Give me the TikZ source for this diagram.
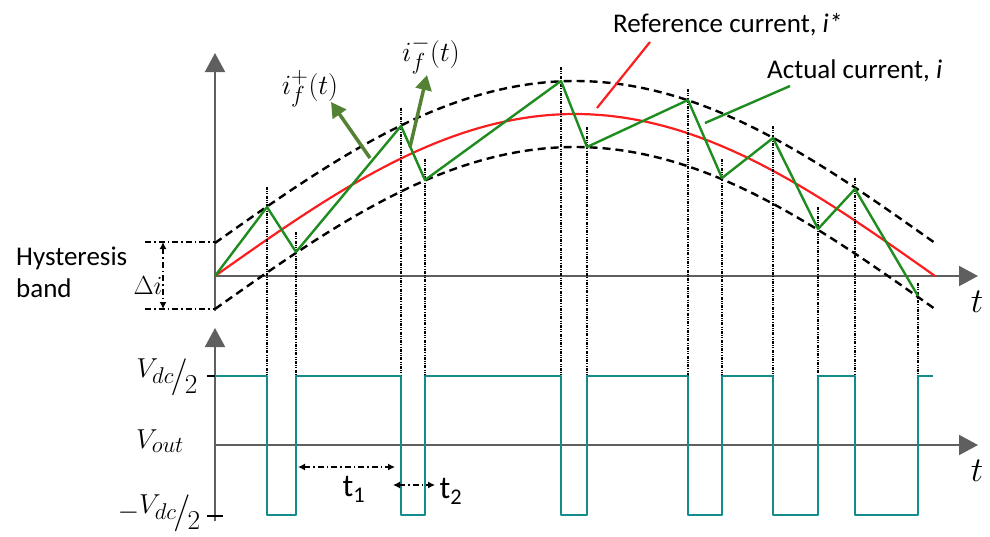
\documentclass[tikz,border=0pt]{standalone}
\usepackage{graphicx}
\usepackage{fontspec}
\newfontfamily\calibri{Carlito}
\usetikzlibrary{arrows.meta}
\definecolor{refred}{RGB}{250,30,30}
\definecolor{actgreen}{RGB}{30,140,30}
\definecolor{anngreen}{RGB}{84,130,53}
\definecolor{sqteal}{RGB}{20,140,140}
\definecolor{axgray}{RGB}{95,95,95}
\newcommand{\mbig}[2]{\scalebox{#1}{\Huge #2}}
\newcommand{\vhalf}{\raisebox{0.22em}{$V_{dc}$}\kern-0.12em\raisebox{-0.12em}{\scalebox{1.35}{$/$}}\kern-0.1em\raisebox{-0.38em}{$2$}}
\begin{document}
\begin{tikzpicture}[x=1pt,y=-1pt,
  axis/.style={draw=axgray,line width=2pt,-{Triangle[length=19pt,width=20pt]}},
  band/.style={draw=black,line width=2.4pt,dash pattern=on 8pt off 5pt},
  refc/.style={draw=refred,line width=2.2pt},
  actc/.style={draw=actgreen,line width=2.4pt,line join=round},
  vdot/.style={draw=black,line width=1.3pt,dash pattern=on 3pt off 1.2pt on 1pt off 1.2pt on 1pt off 1.2pt},
  sq/.style={draw=sqteal,line width=2.2pt,line join=round},
  ann/.style={draw=anngreen,line width=3.5pt,-{Triangle[length=15pt,width=16pt]}},
  hdd/.style={draw=black,line width=1.2pt,dash pattern=on 6pt off 3pt on 1.5pt off 3pt},
  hdarrow/.style={hdd,{Latex[length=7pt,width=7pt]}-{Latex[length=7pt,width=7pt]}},
  tick/.style={draw=black,line width=2.6pt},
  sans/.style={font=\calibri\fontsize{27}{32}\selectfont,inner sep=0pt},
  lab/.style={inner sep=0pt}
]
\useasboundingbox (0,0) rectangle (990,536);

% ---------- top plot ----------
\coordinate (o1) at (215,276);
\coordinate (yt1) at (215,53);
\coordinate (xt1) at (978,276);
\coordinate (yb1) at (215,311);
\draw[axis] (yb1) -- (yt1);
\draw[axis] (o1) -- (xt1);
\node[lab] (tt) at (977,302) {\mbig{1.4}{$t$}};

% bands and reference
\draw[band] plot[domain=215:935,samples=120] (\x,{243-162*sin((\x-215)/4)});
\draw[band] plot[domain=215:935,samples=120] (\x,{309-162*sin((\x-215)/4)});
\draw[refc] plot[domain=215:935,samples=120] (\x,{276-162*sin((\x-215)/4)});

% actual current vertices
\coordinate (g0) at (215,276);
\coordinate (g1) at (267,207);
\coordinate (g2) at (296,252);
\coordinate (g3) at (401,126);
\coordinate (g4) at (425,180);
\coordinate (g5) at (561,81);
\coordinate (g6) at (587,147);
\coordinate (g7) at (688,100);
\coordinate (g8) at (722,178);
\coordinate (g9) at (773,138);
\coordinate (g10) at (818,229);
\coordinate (g11) at (855,189);
\coordinate (g12) at (918,296);

% switching levels
\coordinate (hi) at (215,376);
\coordinate (lo) at (215,515);
\coordinate (hiend) at (933,376);

% vertical dotted lines
\foreach \i/\d in {1/20,2/20,3/18,4/21,5/14,6/20,7/11,8/19,9/12,10/22,11/11,12/13}
  \draw[vdot] ([yshift=\d pt]g\i) -- (g\i |- hi);

\draw[actc] (g0) -- (g1) -- (g2) -- (g3) -- (g4) -- (g5) -- (g6) -- (g7) -- (g8) -- (g9) -- (g10) -- (g11) -- (g12);

% hysteresis band markers
\coordinate (hb1) at (145,242);
\coordinate (hb2) at (145,309);
\draw[hdd] (hb1) -- (215,242);
\draw[hdd] (hb2) -- (215,309);
\draw[hdarrow] (163,242) -- (163,309);
\node[lab] (di) at (148,286) {\mbig{1.05}{$\Delta i$}};
\node[sans,anchor=base west] (hys) at (16,265) {Hysteresis};
\node[sans,anchor=base west] (bnd) at (16,297) {band};

% annotations
\coordinate (a1s) at (370,158);
\coordinate (a1e) at (331,102);
\coordinate (a2s) at (410,147);
\coordinate (a2e) at (427,75);
\draw[ann] (a1s) -- (a1e);
\draw[ann] (a2s) -- (a2e);
\node[lab] (ifp) at (310,89) {\mbig{1.12}{$i_f^+(t)$}};
\node[lab] (ifm) at (431,55) {\mbig{1.12}{$i_f^-(t)$}};

\coordinate (r1) at (597,108);
\coordinate (r2) at (650,42);
\draw[refc] (r1) -- (r2);
\node[sans,anchor=base west] (reftxt) at (613,32) {Reference current, \textit{i*}};
\coordinate (c1) at (705,123);
\coordinate (c2) at (790,86);
\draw[actc] (c1) -- (c2);
\node[sans,anchor=base west] (acttxt) at (767,78) {Actual current, \textit{i}};

% ---------- bottom plot ----------
\coordinate (o2) at (215,445);
\coordinate (yt2) at (215,328);
\coordinate (yb2) at (215,521);
\coordinate (xt2) at (978,445);
\draw[axis] (yb2) -- (yt2);
\draw[axis] (o2) -- (xt2);
\node[lab] (tb) at (977,471) {\mbig{1.4}{$t$}};
\draw[tick] (207,376) -- (223,376);
\draw[tick] (207,516) -- (223,516);

\draw[sq] (hi) -- (g1|-hi) -- (g1|-lo) -- (g2|-lo) -- (g2|-hi)
  -- (g3|-hi) -- (g3|-lo) -- (g4|-lo) -- (g4|-hi)
  -- (g5|-hi) -- (g5|-lo) -- (g6|-lo) -- (g6|-hi)
  -- (g7|-hi) -- (g7|-lo) -- (g8|-lo) -- (g8|-hi)
  -- (g9|-hi) -- (g9|-lo) -- (g10|-lo) -- (g10|-hi)
  -- (g11|-hi) -- (g11|-lo) -- (g12|-lo) -- (g12|-hi) -- (hiend);

\node[lab] (vdc) at (167,377) {\mbig{1.1}{\vhalf}};
\node[lab] (vout) at (160,441) {\mbig{1.1}{$V_{out}$}};
\node[lab] (mvdc) at (159,513) {\mbig{1.1}{$-$\vhalf}};

\coordinate (t1a) at (298,467);
\coordinate (t1b) at (395,467);
\coordinate (t2a) at (393,485);
\coordinate (t2b) at (435,485);
\draw[hdarrow] (t1a) -- (t1b);
\draw[hdarrow] (t2a) -- (t2b);
\node[sans,font=\calibri\fontsize{32}{36}\selectfont] (t1) at (354,489) {t\textsubscript{1}};
\node[sans,font=\calibri\fontsize{32}{36}\selectfont] (t2) at (451,491) {t\textsubscript{2}};
\end{tikzpicture}
\end{document}
